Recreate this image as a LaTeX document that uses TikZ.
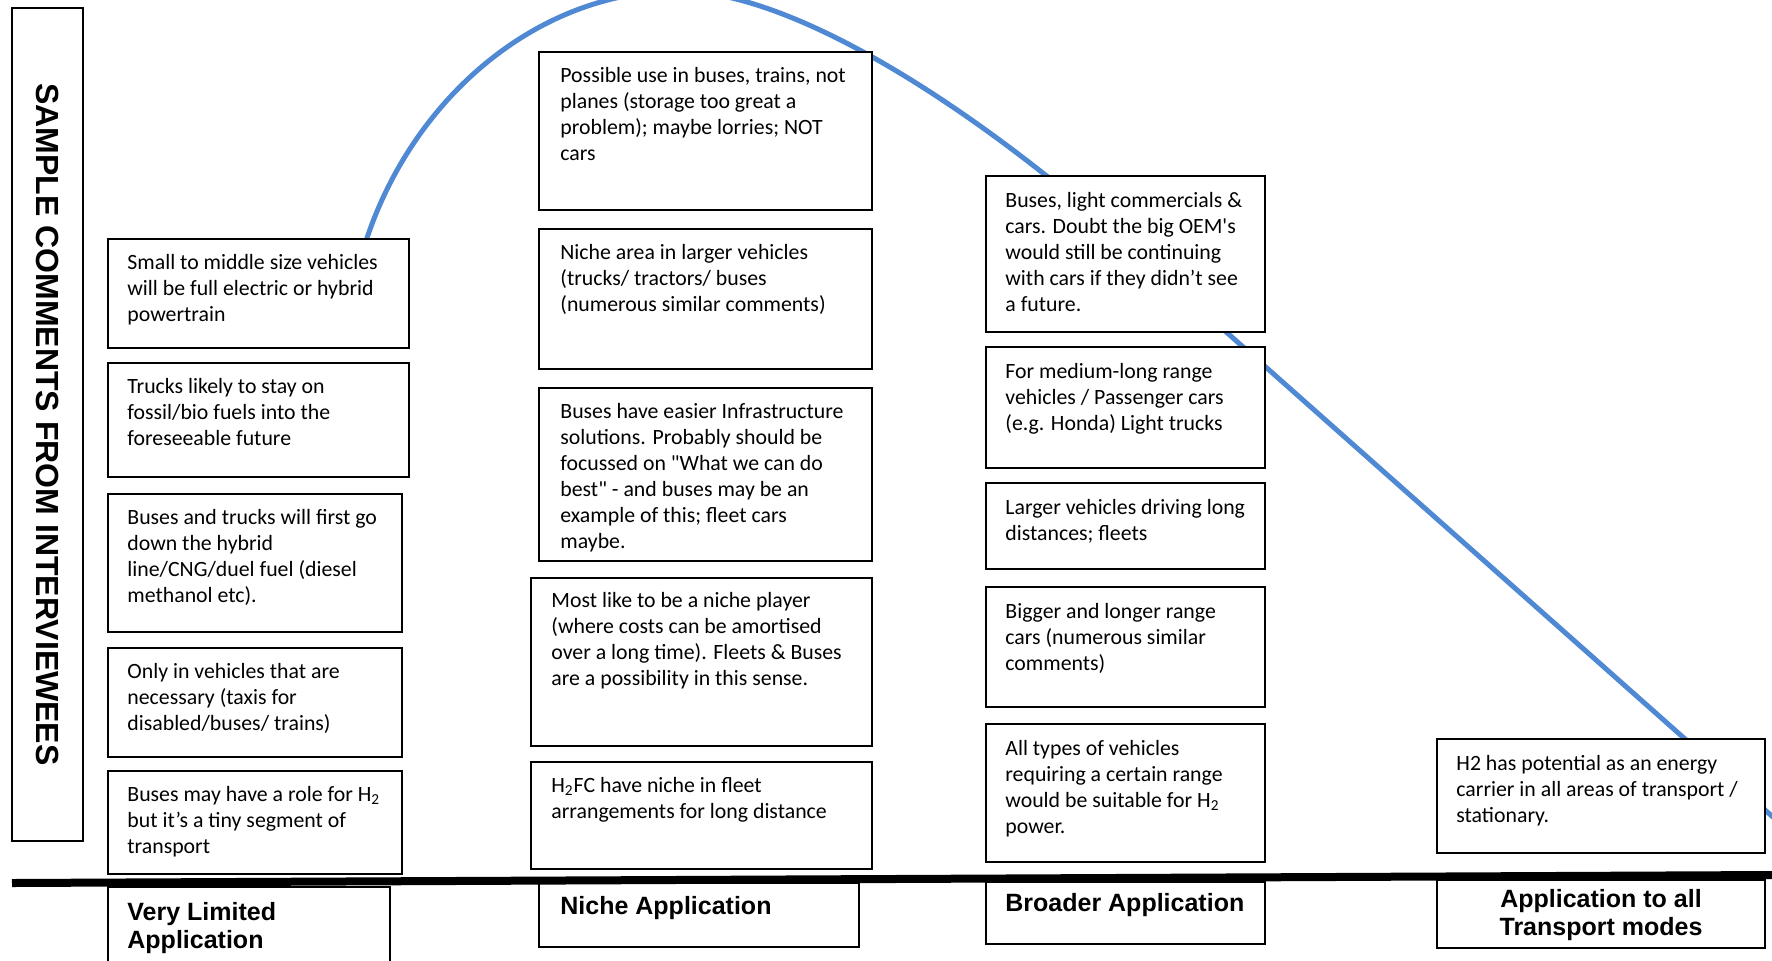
\documentclass[tikz,border=0pt]{standalone}
\usepackage{fontspec}
\setmainfont{Carlito}
\newfontfamily\headfont{Liberation Sans}
\usetikzlibrary{positioning, fit}
\definecolor{curveblue}{HTML}{5089D3}

\begin{document}
\begin{tikzpicture}[
    x=0.5pt, y=-0.5pt,
    comment/.style={draw, line width=1pt, fill=white, inner sep=0pt},
    note/.style={inner sep=0pt, align=left, font=\fontsize{10.9}{13}\selectfont},
    stage/.style={inner sep=0pt, align=left, font=\headfont\bfseries\fontsize{12.5}{14}\selectfont},
    title/.style={inner sep=0pt, font=\headfont\bfseries\fontsize{16}{18}\selectfont}
]
\useasboundingbox (0,0) rectangle (1772,960);
\clip (0,0) rectangle (1772,960);

% adoption curve
\draw[curveblue, line width=2.5pt] (360,255) -- (367,238)
    .. controls (415,95) and (540,-9) .. (678,-9)
    .. controls (790,-9) and (960,100) .. (1100,220)
    -- (1800,841);

% side title
\node[comment, fit={(12,8) (83,841)}] (tbox) {};
\node[title, rotate=-90] (ttl) at (tbox.center) {SAMPLE COMMENTS FROM INTERVIEWEES};

% very limited application
\node[comment, fit={(108,239) (409,348)}] (v1) {};
    \node[note, below right=8pt and 10pt of v1.north west] (v1t) {Small to middle size vehicles\\will be full electric or hybrid\\powertrain};
\node[comment, fit={(108,363) (409,477)}] (v2) {};
    \node[note, below right=8pt and 10pt of v2.north west] (v2t) {Trucks likely to stay on\\fossil/bio fuels into the\\foreseeable future};
\node[comment, fit={(108,494) (402,632)}] (v3) {};
    \node[note, below right=8pt and 10pt of v3.north west] (v3t) {Buses and trucks will first go\\down the hybrid\\line/CNG/duel fuel (diesel\\methanol etc).};
\node[comment, fit={(108,648) (402,757)}] (v4) {};
    \node[note, below right=8pt and 10pt of v4.north west] (v4t) {Only in vehicles that are\\necessary (taxis for\\disabled/buses/ trains)};
\node[comment, fit={(108,771) (402,874)}] (v5) {};
    \node[note, below right=8pt and 10pt of v5.north west] (v5t) {Buses may have a role for H\textsubscript{2}\\but it’s a tiny segment of\\transport};

% niche application
\node[comment, fit={(539,52) (872,210)}] (n1) {};
    \node[note, below right=8pt and 11pt of n1.north west] (n1t) {Possible use in buses, trains, not\\planes (storage too great a\\problem); maybe lorries; NOT\\cars};
\node[comment, fit={(539,229) (872,369)}] (n2) {};
    \node[note, below right=8pt and 11pt of n2.north west] (n2t) {Niche area in larger vehicles\\(trucks/ tractors/ buses\\(numerous similar comments)};
\node[comment, fit={(539,388) (872,561)}] (n3) {};
    \node[note, below right=8pt and 11pt of n3.north west] (n3t) {Buses have easier Infrastructure\\solutions. Probably should be\\focussed on \textquotedbl What we can do\\best\textquotedbl{} - and buses may be an\\example of this; fleet cars\\maybe.};
\node[comment, fit={(531,578) (872,746)}] (n4) {};
    \node[note, below right=7.5pt and 10.5pt of n4.north west] (n4t) {Most like to be a niche player\\(where costs can be amortised\\over a long time). Fleets \& Buses\\are a possibility in this sense.};
\node[comment, fit={(531,762) (872,869)}] (n5) {};
    \node[note, below right=8pt and 10.5pt of n5.north west] (n5t) {H\textsubscript{2}FC have niche in fleet\\arrangements for long distance};

% broader application
\node[comment, fit={(986,176) (1265,332)}] (b1) {};
    \node[note, below right=8.5pt and 10pt of b1.north west] (b1t) {Buses, light commercials \&\\cars. Doubt the big OEM\textquotesingle s\\would still be continuing\\with cars if they didn’t see\\a future.};
\node[comment, fit={(986,347) (1265,468)}] (b2) {};
    \node[note, below right=8.5pt and 10pt of b2.north west] (b2t) {For medium-long range\\vehicles / Passenger cars\\(e.g. Honda) Light trucks};
\node[comment, fit={(986,483) (1265,569)}] (b3) {};
    \node[note, below right=8.5pt and 10pt of b3.north west] (b3t) {Larger vehicles driving long\\distances; fleets};
\node[comment, fit={(986,587) (1265,707)}] (b4) {};
    \node[note, below right=8.5pt and 10pt of b4.north west] (b4t) {Bigger and longer range\\cars (numerous similar\\comments)};
\node[comment, fit={(986,724) (1265,862)}] (b5) {};
    \node[note, below right=8.5pt and 10pt of b5.north west] (b5t) {All types of vehicles\\requiring a certain range\\would be suitable for H\textsubscript{2}\\power.};

% all transport modes
\node[comment, fit={(1437,739) (1765,853)}] (a1) {};
    \node[note, below right=8.5pt and 10pt of a1.north west] (a1t) {H2 has potential as an energy\\carrier in all areas of transport /\\stationary.};

% stage labels
\node[comment, fit={(108,887) (390,975)}] (s1) {};
    \node[stage, below right=8pt and 10pt of s1.north west] (s1t) {Very Limited\\Application};
\node[comment, fit={(539,883) (859,947)}] (s2) {};
    \node[stage, below right=7pt and 11pt of s2.north west] (s2t) {Niche Application};
\node[comment, fit={(986,882) (1265,944)}] (s3) {};
    \node[stage, below right=6pt and 10pt of s3.north west] (s3t) {Broader Application};
\node[comment, fit={(1437,880) (1765,948)}] (s4) {};
    \node[stage, align=center, anchor=north] (s4t) at (1601,889) {Application to all\\Transport modes};

% axis
\draw[line width=4pt] (12,883) -- (1772,875);
\end{tikzpicture}
\end{document}
